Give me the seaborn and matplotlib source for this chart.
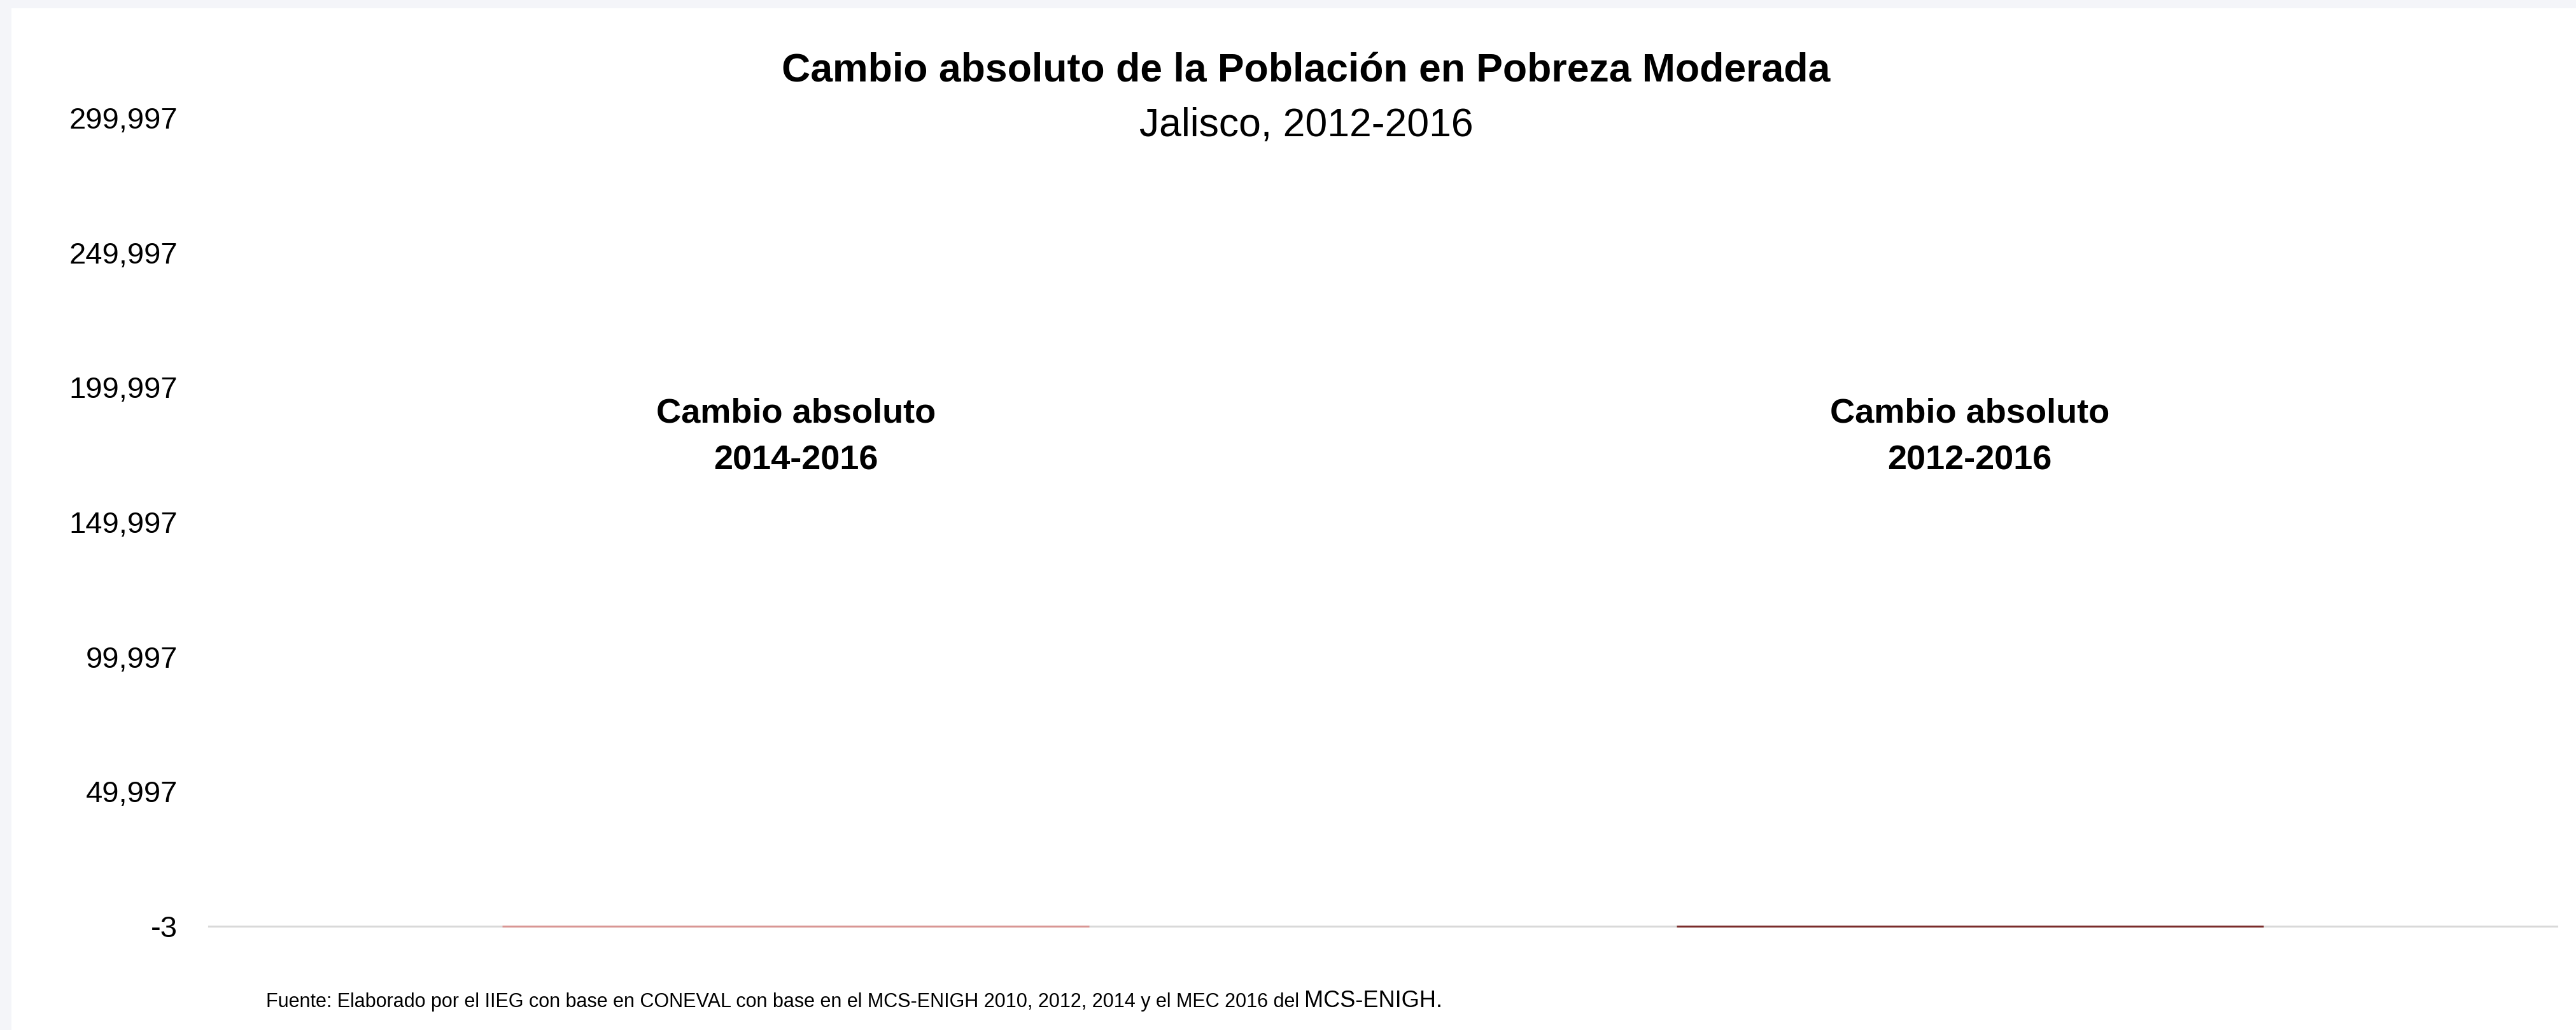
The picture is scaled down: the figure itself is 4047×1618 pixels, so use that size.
import matplotlib
matplotlib.use("Agg")
import matplotlib.pyplot as plt
from matplotlib import font_manager
from matplotlib.patches import Rectangle
import seaborn as sns
import pandas as pd

# ---- data ----
categories = ["Cambio absoluto\n2014-2016", "Cambio absoluto\n2012-2016"]
values = [-3, -3]
bar_colors = ["#D99694", "#7A2C2B"]
y_ticks = [-3, 49997, 99997, 149997, 199997, 249997, 299997]
title = "Cambio absoluto de la Población en Pobreza Moderada"
subtitle = "Jalisco, 2012-2016"
source_main = "Fuente: Elaborado por el IIEG con base en CONEVAL con base en el MCS-ENIGH 2010, 2012, 2014 y el MEC 2016 del "
source_tail = "MCS-ENIGH."

sns.set_theme(style="white")
names = {f.name for f in font_manager.fontManager.ttflist}
narrow = "Liberation Sans Narrow" if "Liberation Sans Narrow" in names else "Liberation Sans"
plt.rcParams["font.family"] = [narrow, "DejaVu Sans"]
plt.rcParams["text.color"] = "black"
plt.rcParams["ytick.color"] = "black"
plt.rcParams["ytick.labelcolor"] = "black"

W, H, DPI = 4047, 1618, 100
fig = plt.figure(figsize=(W / DPI, H / DPI), dpi=DPI, facecolor="#F4F5F9")
bg = Rectangle((18 / W, 0), 1 - 18 / W, (H - 13) / H, transform=fig.transFigure,
               facecolor="white", edgecolor="none", zorder=-10)
fig.patches.append(bg)

ax = fig.add_axes([328 / W, 163 / H, (4017 - 328) / W, (1455 - 185) / H])
ax.set_facecolor("none")
ax.set_zorder(1)

df = pd.DataFrame({"cat": categories, "val": values})
sns.barplot(data=df, x="cat", y="val", hue="cat", palette=bar_colors, width=0.5,
            legend=False, ax=ax, linewidth=2.2, saturation=1)
for p, c in zip(ax.patches, bar_colors):
    p.set_edgecolor(c)
    p.set_clip_on(False)
    p.set_zorder(3)

ax.set_xlim(-0.5, 1.5)
ax.set_ylim(y_ticks[0], y_ticks[-1])
ax.set_yticks(y_ticks)
ax.set_yticklabels([f"{v:,}" for v in y_ticks], fontsize=34, color="black")
ax.tick_params(axis="y", length=0, pad=35)
ax.set_xticks([])
ax.set_xlabel("")
ax.set_ylabel("")
for s in ["top", "right", "left"]:
    ax.spines[s].set_visible(False)
ax.spines["bottom"].set_color("#D9D9D9")
ax.spines["bottom"].set_linewidth(2.2)
ax.spines["bottom"].set_zorder(2)

for i, cat in enumerate(categories):
    ax.text(i, 181500, cat, ha="center", va="center", fontsize=39, fontweight="bold",
            linespacing=1.6, color="black")

fig.text(2052 / W, 1 - 112 / H, title, ha="center", va="center", fontsize=45,
         fontweight="bold", color="black")
fig.text(2052 / W, 1 - 197 / H, subtitle, ha="center", va="center", fontsize=45, color="black")

t1 = fig.text(418 / W, 1 - 1582 / H, source_main, ha="left", va="baseline", fontsize=22,
              color="black")
fig.canvas.draw()
bb = t1.get_window_extent(renderer=fig.canvas.get_renderer())
fig.text(bb.x1 / W, t1.get_position()[1], source_tail, ha="left", va="baseline", fontsize=26,
         family=["Liberation Sans", "DejaVu Sans"], color="black")

fig.savefig("out.png", dpi=DPI, facecolor=fig.get_facecolor())
